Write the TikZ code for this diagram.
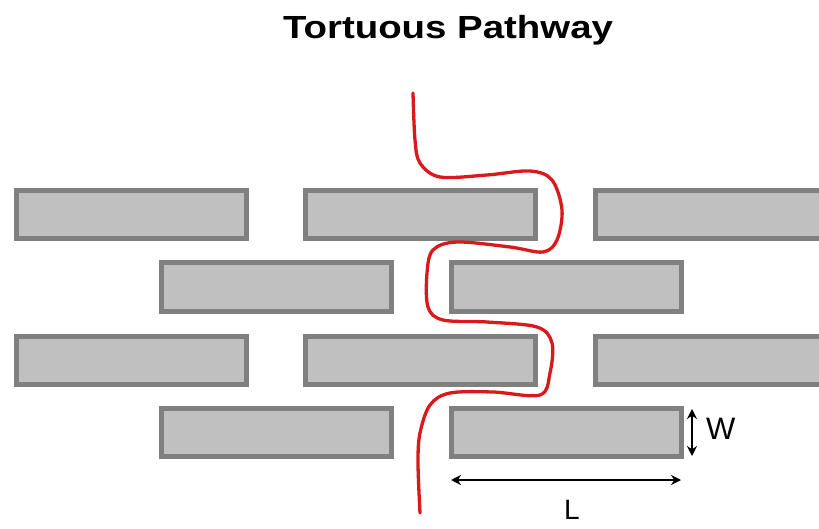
\documentclass[tikz,border=0pt]{standalone}
\usepackage{fontspec}
\setmainfont{Liberation Sans}
\usetikzlibrary{arrows.meta}
\definecolor{brickfill}{HTML}{C0C0C0}
\definecolor{brickline}{HTML}{808080}
\definecolor{pathred}{HTML}{D9191C}
\begin{document}
\begin{tikzpicture}[x=1pt,y=-1pt,
  brick/.style={draw=brickline,fill=brickfill,line width=5pt,inner sep=0pt,
    minimum width=230pt,minimum height=48pt},
  dim/.style={line width=2.6pt,{Stealth[length=10pt,width=10pt]}-{Stealth[length=10pt,width=10pt]}},
  redpath/.style={draw=pathred,line width=3.3pt,line cap=round,line join=round}]
\useasboundingbox (0,0) rectangle (819,529);
\node[font=\bfseries\fontsize{32}{36}\selectfont] (title) at (448,30) {\scalebox{1.2}[1]{Tortuous Pathway}};
% row 1
\node[brick] (a) at (131.5,214.5) {};
\node[brick] (b) at (420.5,214.5) {};
\node[brick] (c) at (710.5,214.5) {};
% row 2
\node[brick] (d) at (276,287) {};
\node[brick] (e) at (566,287) {};
% row 3
\node[brick] (f) at (131.5,360) {};
\node[brick] (g) at (420.5,360) {};
\node[brick] (h) at (710.5,360) {};
% row 4
\node[brick] (i) at (276,432.5) {};
\node[brick] (j) at (566,432.5) {};
% red tortuous path
\coordinate (pstart) at (413,93);
\coordinate (pend) at (420,513);
\draw[redpath] plot[smooth,tension=0.55] coordinates {
 (pstart) (415,140) (420,163) (440,177) (487,175) (530,171) (552,180) (562,210)
 (557,240) (543,252) (510,247) (457,242) (433,250) (427,273) (428,307)
 (443,320) (487,322) (537,327) (552,343) (550,373) (540,395) (493,392)
 (450,393) (430,405) (420,433) (418,463) (pend)};
% dimension W
\coordinate (wtop) at (692,409);
\coordinate (wbot) at (692,456);
\draw[dim] (wtop) -- (wbot);
\node[font=\fontsize{31}{34}\selectfont,anchor=west,inner sep=0pt] (wlab) at (706,429) {W};
% dimension L
\coordinate (lleft) at (451,480);
\coordinate (lright) at (681,480);
\draw[dim] (lleft) -- (lright);
\node[font=\fontsize{28}{30}\selectfont,inner sep=0pt,anchor=base] (llab) at (572,519) {L};
\end{tikzpicture}
\end{document}
